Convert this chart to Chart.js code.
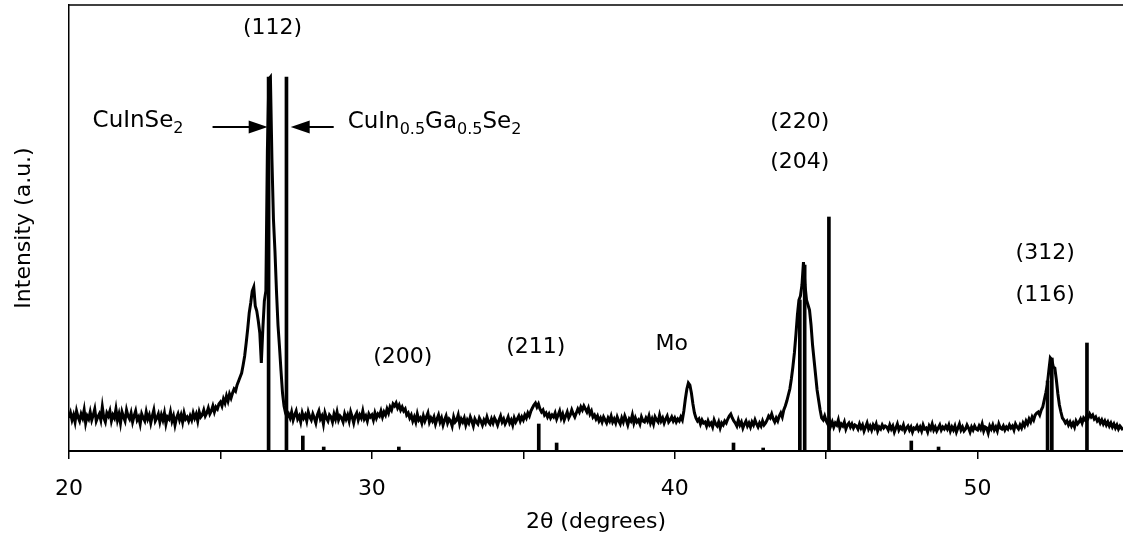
<!DOCTYPE html>
<html>
<head>
<meta charset="utf-8">
<script src="https://cdn.jsdelivr.net/npm/chart.js@4.4.1/dist/chart.umd.min.js"></script>
<style>
  body { margin: 0; background: #fff; }
</style>
</head>
<body>
<canvas id="xrd" width="1123" height="533"></canvas>
<script>
/* Measured pattern: 2theta from 20 to 54.8 deg, 0.05 deg steps (one row per degree) */
const thetaStart = 20;
const thetaStep = 0.05;
const intensity = [
  33,38,31,36,29,40,34,30,37,33,41,28,35,32,39,31,36,42,30,34, // 20
  37,31,44,33,29,38,35,40,30,36,33,42,31,37,28,39,34,30,41,35, // 21
  32,38,29,35,40,31,34,27,37,33,30,39,32,36,28,35,41,30,33,37, // 22
  29,36,31,38,27,34,32,39,30,35,26,33,37,31,36,29,38,32,34,30, // 23
  35,31,38,33,37,30,39,34,36,41,35,38,43,37,40,45,39,44,42,47, // 24
  49,45,52,48,55,50,57,53,58,62,60,66,70,74,78,86,95,108,122,138, // 25
  148,160,164,145,140,130,118,88,122,150,160,300,372,374,292,232,200,160,126,104, // 26
  80,58,45,38,34,37,33,39,31,36,40,32,35,29,38,33,36,30,39,34, // 27
  31,37,33,28,36,40,32,35,27,38,33,30,36,34,29,37,32,39,31,35, // 28
  33,29,37,32,36,30,39,34,28,35,38,31,36,33,40,32,35,30,37,34, // 29
  36,31,38,33,37,35,40,34,39,36,42,38,44,41,47,45,48,43,46,41, // 30
  44,40,42,36,38,33,36,30,34,29,37,31,33,28,35,30,34,38,29,33, // 31
  30,34,27,32,36,29,33,26,31,35,28,32,30,25,34,29,31,36,27,32, // 32
  29,33,26,31,28,34,30,25,32,29,27,33,30,26,31,28,34,29,27,32, // 33
  28,33,30,26,31,35,29,32,27,30,34,28,31,26,33,29,32,35,30,34, // 34
  31,36,33,38,35,40,43,46,48,44,47,42,39,41,36,38,34,37,33,36, // 35
  34,38,32,36,40,33,37,31,35,39,33,36,41,37,34,38,42,39,44,41, // 36
  45,42,39,43,37,40,34,36,32,35,30,33,29,34,31,28,33,30,35,29, // 37
  32,28,34,30,27,33,29,35,31,26,32,30,36,28,33,29,31,27,34,30, // 38
  29,33,30,35,28,32,27,34,31,29,36,30,33,28,32,35,29,31,34,30, // 39
  33,29,32,30,34,31,40,52,62,68,66,58,47,38,33,30,32,27,31,28, // 40
  29,25,30,26,28,24,31,27,25,29,23,28,26,30,28,32,35,37,33,30, // 41
  28,25,31,26,29,23,27,30,25,28,24,29,26,31,27,24,28,25,30,26, // 42
  28,31,35,33,37,32,29,33,30,35,38,34,41,45,50,56,62,72,84,98, // 43
  116,136,151,155,166,189,166,151,146,141,126,106,91,76,61,51,41,33,31,35, // 44
  30,27,32,25,29,24,28,26,31,23,27,25,29,22,26,28,24,27,23,26, // 45
  25,22,27,23,26,20,24,28,22,25,21,26,23,27,20,24,22,26,23,25, // 46
  24,21,26,22,25,19,23,27,21,24,22,26,20,23,25,21,24,19,23,22, // 47
  25,21,24,20,26,22,23,19,25,22,27,21,24,20,23,26,21,24,22,25, // 48
  22,26,20,24,21,25,19,23,27,21,24,20,22,26,23,19,24,21,25,22, // 49
  21,25,22,27,20,24,23,18,25,22,26,21,24,20,27,23,22,25,21,24, // 50
  22,26,23,25,21,27,24,22,26,23,28,25,30,27,32,29,34,31,36,38, // 51
  39,36,41,44,51,58,66,80,93,91,84,83,71,57,46,39,33,31,28,30, // 52
  26,29,25,28,24,30,27,29,32,28,33,31,35,33,37,34,36,32,34,30, // 53
  32,28,31,27,30,26,29,25,28,24,27,23,26,22,25,23,21          // 54
];

/* Reference stick patterns */
const cisPeaks   = [26.59, 27.72, 30.89, 35.51, 41.94, 44.13, 44.29, 47.81, 52.31, 52.45];
const cisHeights = [374, 15, 4, 27, 8, 151, 186, 10, 70, 93];
const cigsPeaks   = [27.18, 28.41, 36.10, 42.92, 45.09, 48.71, 53.61];
const cigsHeights = [374, 4, 8, 3, 234, 4, 108];

const xTicks = [20, 30, 40, 50];

/* Text on the plot, placed in data coordinates */
const notes = [
  { x: 26.72, y: 417, align: "center", parts: [["(112)"]] },
  { x: 44.13, y: 323, align: "center", parts: [["(220)"]] },
  { x: 44.13, y: 283, align: "center", parts: [["(204)"]] },
  { x: 31.02, y: 88,  align: "center", parts: [["(200)"]] },
  { x: 35.41, y: 98,  align: "center", parts: [["(211)"]] },
  { x: 39.9,  y: 101, align: "center", parts: [["Mo"]] },
  { x: 52.23, y: 192, align: "center", parts: [["(312)"]] },
  { x: 52.23, y: 150, align: "center", parts: [["(116)"]] },
  { x: 20.78, y: 324, align: "left", parts: [["CuInSe"], ["2", true]] },
  { x: 29.2,  y: 323, align: "left",
    parts: [["CuIn"], ["0.5", true], ["Ga"], ["0.5", true], ["Se"], ["2", true]] },
];
const arrows = [
  { from: [24.74, 324], to: [26.56, 324] },
  { from: [28.74, 324], to: [27.32, 324] },
];

const FONT = "'DejaVu Sans', sans-serif";
Chart.defaults.font.family = FONT;
Chart.defaults.color = "#000";

const pattern = intensity.map((v, i) => ({ x: thetaStart + i * thetaStep, y: v }));
const sticks = (xs, hs) => xs.map((x, i) => ({ x: x, y: hs[i] }));

const notesPlugin = {
  id: "notes",
  afterDraw(chart) {
    const { ctx, chartArea, scales } = chart;
    const sx = scales.x, sy = scales.y;
    ctx.save();
    // top frame line
    ctx.strokeStyle = "#000";
    ctx.lineWidth = 1.5;
    ctx.beginPath();
    ctx.moveTo(chartArea.left, chartArea.top);
    ctx.lineTo(chartArea.right, chartArea.top);
    ctx.stroke();

    ctx.fillStyle = "#000";
    ctx.textBaseline = "alphabetic";
    ctx.textAlign = "left";
    notes.forEach((n) => {
      const big = n.parts.length > 1 ? 23 : 22;
      let w = 0;
      n.parts.forEach(([t, sub]) => {
        ctx.font = (sub ? 16 : big) + "px " + FONT;
        w += ctx.measureText(t).width;
      });
      let px = sx.getPixelForValue(n.x);
      if (n.align === "center") px -= w / 2;
      const py = sy.getPixelForValue(n.y);
      n.parts.forEach(([t, sub]) => {
        ctx.font = (sub ? 16 : big) + "px " + FONT;
        ctx.fillText(t, px, sub ? py + 6 : py);
        px += ctx.measureText(t).width;
      });
    });

    ctx.lineWidth = 2;
    arrows.forEach((a) => {
      const x0 = sx.getPixelForValue(a.from[0]), y0 = sy.getPixelForValue(a.from[1]);
      const x1 = sx.getPixelForValue(a.to[0]), y1 = sy.getPixelForValue(a.to[1]);
      const dir = x1 > x0 ? 1 : -1;
      ctx.beginPath();
      ctx.moveTo(x0, y0);
      ctx.lineTo(x1 - dir * 10, y1);
      ctx.stroke();
      ctx.beginPath();
      ctx.moveTo(x1, y1);
      ctx.lineTo(x1 - dir * 19, y1 - 6.5);
      ctx.lineTo(x1 - dir * 19, y1 + 6.5);
      ctx.closePath();
      ctx.fill();
    });
    ctx.restore();
  },
};

new Chart(document.getElementById("xrd"), {
  type: "line",
  data: {
    datasets: [
      {
        label: "film",
        data: pattern,
        borderColor: "#000",
        borderWidth: 3,
        pointRadius: 0,
        tension: 0,
      },
      {
        type: "bar",
        label: "CuInSe2",
        data: sticks(cisPeaks, cisHeights),
        backgroundColor: "#000",
        barThickness: 3,
        grouped: false,
      },
      {
        type: "bar",
        label: "CuIn0.5Ga0.5Se2",
        data: sticks(cigsPeaks, cigsHeights),
        backgroundColor: "#000",
        barThickness: 3,
        grouped: false,
      },
    ],
  },
  options: {
    responsive: false,
    animation: false,
    layout: { padding: { top: 5, right: 0, left: 0, bottom: 0 } },
    plugins: { legend: { display: false }, tooltip: { enabled: false } },
    scales: {
      x: {
        type: "linear",
        min: 20,
        max: 54.8,
        offset: false,
        afterFit: (s) => { s.height = 82; },
        ticks: {
          stepSize: 5,
          includeBounds: false,
          autoSkip: false,
          maxRotation: 0,
          padding: 19,
          font: { size: 22, lineHeight: 1 },
          color: "#000",
          callback: (v) => (xTicks.includes(v) ? String(v) : ""),
        },
        grid: { offset: false, drawOnChartArea: false, drawTicks: true, tickLength: 8, color: "#000", lineWidth: 1.5 },
        border: { color: "#000", width: 2 },
        title: {
          display: true,
          text: "2θ (degrees)",
          font: { size: 22, lineHeight: 1 },
          padding: { top: 0, bottom: 0 },
          color: "#000",
        },
      },
      y: {
        min: 0,
        max: 446,
        afterFit: (s) => { s.width = 69; },
        ticks: { display: false },
        grid: { display: false },
        border: { display: true, color: "#000", width: 1.5 },
        title: {
          display: true,
          text: "Intensity (a.u.)",
          font: { size: 22, lineHeight: 1 },
          padding: { top: 13, bottom: 0 },
          color: "#000",
        },
      },
    },
  },
  plugins: [notesPlugin],
});
</script>
</body>
</html>
